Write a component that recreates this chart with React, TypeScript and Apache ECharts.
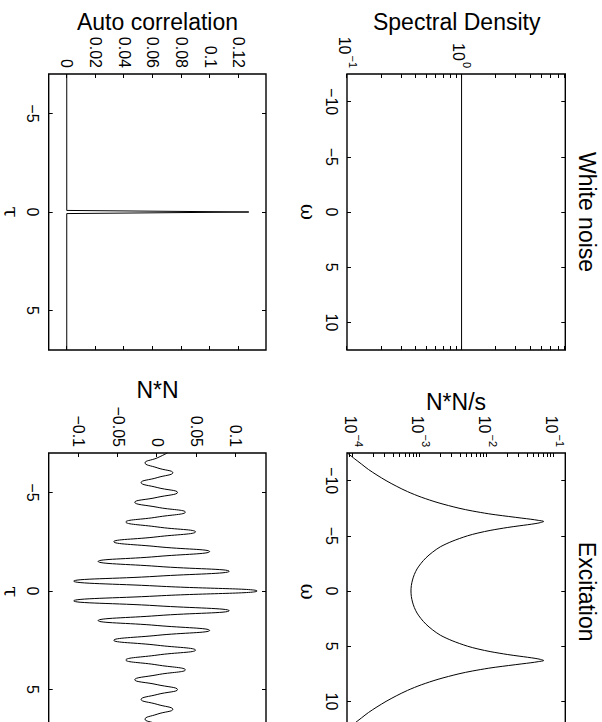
import React, { useEffect, useRef } from 'react';
import * as echarts from 'echarts';

// White noise: flat spectral density
const whiteOmega = [-12.5, 12.5];
const whiteSpectrum = [1, 1];

// Excitation spectral density (N*N/s)
const excitationOmega = [
  -12.5, -12, -11.5, -11, -10.5, -10, -9.5, -9, -8.5, -8, -7.5, -7.25, -7, -6.9, -6.75, -6.6, -6.5, -6.4, -6.3,
  -6.2, -6.1, -6, -5.9, -5.75, -5.5, -5.25, -5, -4.5, -4, -3.5, -3, -2.5, -2, -1.5, -1, -0.5, 0,
  0.5, 1, 1.5, 2, 2.5, 3, 3.5, 4, 4.5, 5, 5.25, 5.5, 5.75, 5.9, 6, 6.1, 6.2,
  6.3, 6.4, 6.5, 6.6, 6.75, 6.9, 7, 7.25, 7.5, 8, 8.5, 9, 9.5, 10, 10.5, 11, 11.5, 12, 12.5,
];
const excitationSpectrum = [
  8.2e-5, 1.04e-4, 1.33e-4, 1.7e-4, 2.27e-4, 3.1e-4, 4.4e-4, 6.5e-4, 1.04e-3, 1.85e-3, 3.8e-3, 6.0e-3, 1.04e-2, 1.35e-2, 2.1e-2, 3.3e-2, 4.5e-2, 5.8e-2, 7.0e-2,
  6.3e-2, 5.2e-2, 4.0e-2, 3.0e-2, 2.0e-2, 1.14e-2, 7.3e-3, 5.1e-3, 3.0e-3, 2.0e-3, 1.52e-3, 1.22e-3, 1.03e-3, 9.0e-4, 8.2e-4, 7.7e-4, 7.4e-4, 7.3e-4,
  7.4e-4, 7.7e-4, 8.2e-4, 9.0e-4, 1.03e-3, 1.22e-3, 1.52e-3, 2.0e-3, 3.0e-3, 5.1e-3, 7.3e-3, 1.14e-2, 2.0e-2, 3.0e-2, 4.0e-2, 5.2e-2, 6.3e-2,
  7.0e-2, 5.8e-2, 4.5e-2, 3.3e-2, 2.1e-2, 1.35e-2, 1.04e-2, 6.0e-3, 3.8e-3, 1.85e-3, 1.04e-3, 6.5e-4, 4.4e-4, 3.1e-4, 2.27e-4, 1.7e-4, 1.33e-4, 1.04e-4, 8.2e-5,
];

// White noise autocorrelation: a single spike at tau = 0
const autoTau = [-7, -0.08, 0, 0.08, 7];
const autoCorr = [0, 0, 0.127, 0, 0];

// Excitation autocorrelation (N*N)
const nnTau = [
  -7, -6.75, -6.5, -6.25, -6, -5.75, -5.5, -5.25, -5, -4.75, -4.5, -4.25, -4, -3.75, -3.5, -3.25,
  -3, -2.75, -2.5, -2.25, -2, -1.75, -1.5, -1.25, -1, -0.75, -0.5, -0.25, 0,
  0.25, 0.5, 0.75, 1, 1.25, 1.5, 1.75, 2, 2.25, 2.5, 2.75, 3, 3.25, 3.5, 3.75,
  4, 4.25, 4.5, 4.75, 5, 5.25, 5.5, 5.75, 6, 6.25, 6.5, 6.75, 7,
];
const nnCorr = [
  0.013, 0, -0.0155, 0, 0.02, 0, -0.0205, 0, 0.026, 0, -0.0286, 0, 0.036, 0, -0.04, 0,
  0.049, 0, -0.0554, 0, 0.067, 0, -0.0754, 0, 0.092, 0, -0.1065, 0, 0.1277,
  0, -0.1065, 0, 0.092, 0, -0.0754, 0, 0.067, 0, -0.0554, 0, 0.049, 0, -0.04, 0,
  0.036, 0, -0.0286, 0, 0.026, 0, -0.0205, 0, 0.02, 0, -0.0155, 0, 0.013,
];

// Tick labels
const omegaTicks = [-10, -5, 0, 5, 10];
const tauTicks = [-5, 0, 5];
const whiteDecades = [0.1, 1];
const excitationDecades = [1e-4, 1e-3, 1e-2, 1e-1];
const autoTicks = [0, 0.02, 0.04, 0.06, 0.08, 0.1, 0.12];
const nnTicks = [-0.1, -0.05, 0, 0.05, 0.1];

const FIG_W = 740;
const FIG_H = 602;
const FONT = '"Liberation Sans", Arial, Helvetica, sans-serif';
const SERIF = '"DejaVu Serif", "Liberation Serif", serif';
const MINUS = '\u2212';

const minorSteps = [1, 2, 3, 4, 5, 6, 7, 8, 9];
function logTickValues(lo: number, hi: number): number[] {
  const out: number[] = [];
  for (let e = Math.floor(Math.log10(lo)); e <= Math.ceil(Math.log10(hi)); e++) {
    for (const m of minorSteps) {
      const v = Number((m * Math.pow(10, e)).toPrecision(6));
      if (v >= lo && v <= hi) out.push(v);
    }
  }
  return out;
}

const linearLabel = (v: number) => String(v).replace('-', MINUS);
const powerLabel = (v: number) => {
  const e = Math.round(Math.log10(v));
  return `{b|10}{s|${e < 0 ? MINUS + -e : e}}`;
};

const tickStyle = { color: '#000', width: 1 };

function axis(
  gridIndex: number,
  position: string,
  type: 'value' | 'log',
  min: number,
  max: number,
  ticks: number[],
  labels: number[] | null,
  formatter: (v: number) => string,
) {
  const rich = {
    b: { fontSize: 16, fontFamily: FONT, color: '#000', lineHeight: 22, verticalAlign: 'bottom' },
    s: { fontSize: 11, fontFamily: FONT, color: '#000', lineHeight: 22, verticalAlign: 'top', padding: [0, 0, 0, 1] },
  };
  return {
    type,
    gridIndex,
    position,
    min,
    max,
    logBase: 10,
    axisLine: { show: false, onZero: false },
    splitLine: { show: false },
    minorTick: { show: false },
    axisTick: { show: true, inside: true, length: 4, customValues: ticks, lineStyle: tickStyle },
    axisLabel: labels
      ? {
          show: true,
          customValues: labels,
          formatter,
          color: '#000',
          fontSize: 16,
          fontFamily: FONT,
          margin: position === 'bottom' ? 8 : 6,
          rich,
        }
      : { show: false },
  };
}

const grids = [
  { left: 74, top: 36.7, width: 276, height: 218.3 },
  { left: 453, top: 36.7, width: 276, height: 218.3 },
  { left: 74, top: 336, width: 276, height: 217.3 },
  { left: 453, top: 336, width: 276, height: 217.3 },
];

const W_MIN = 0.1;
const W_MAX = 8.04;
const E_MIN = 8.1e-5;
const E_MAX = 0.147;
const A_MIN = -0.0126;
const A_MAX = 0.139;
const N_MIN = -0.1385;
const N_MAX = 0.139;

const xAxes = [
  axis(0, 'bottom', 'value', -12.5, 12.5, omegaTicks, omegaTicks, linearLabel),
  axis(0, 'top', 'value', -12.5, 12.5, omegaTicks, null, linearLabel),
  axis(1, 'bottom', 'value', -12.5, 12.5, omegaTicks, omegaTicks, linearLabel),
  axis(1, 'top', 'value', -12.5, 12.5, omegaTicks, null, linearLabel),
  axis(2, 'bottom', 'value', -7, 7, tauTicks, tauTicks, linearLabel),
  axis(2, 'top', 'value', -7, 7, tauTicks, null, linearLabel),
  axis(3, 'bottom', 'value', -7, 7, tauTicks, tauTicks, linearLabel),
  axis(3, 'top', 'value', -7, 7, tauTicks, null, linearLabel),
];

const wTicks = logTickValues(W_MIN, W_MAX);
const eTicks = logTickValues(E_MIN, E_MAX);

const yAxes = [
  axis(0, 'left', 'log', W_MIN, W_MAX, wTicks, whiteDecades, powerLabel),
  axis(0, 'right', 'log', W_MIN, W_MAX, wTicks, null, powerLabel),
  axis(1, 'left', 'log', E_MIN, E_MAX, eTicks, excitationDecades, powerLabel),
  axis(1, 'right', 'log', E_MIN, E_MAX, eTicks, null, powerLabel),
  axis(2, 'left', 'value', A_MIN, A_MAX, autoTicks, autoTicks, linearLabel),
  axis(2, 'right', 'value', A_MIN, A_MAX, autoTicks, null, linearLabel),
  axis(3, 'left', 'value', N_MIN, N_MAX, nnTicks, nnTicks, linearLabel),
  axis(3, 'right', 'value', N_MIN, N_MAX, nnTicks, null, linearLabel),
];

const pairs = (xs: number[], ys: number[]) => xs.map((x, i) => [x, ys[i]]);

function lineSeries(index: number, data: number[][], smooth: number | boolean) {
  return {
    type: 'line',
    xAxisIndex: index * 2,
    yAxisIndex: index * 2,
    data,
    showSymbol: false,
    symbol: 'none',
    smooth,
    clip: true,
    lineStyle: { color: '#000', width: 1 },
    silent: true,
  };
}

function label(text: string, x: number, y: number, size: number, rotated: boolean, family = FONT) {
  return {
    type: 'text',
    x,
    y,
    rotation: rotated ? Math.PI / 2 : 0,
    silent: true,
    style: {
      text,
      fill: '#000',
      fontSize: size,
      fontFamily: family,
      align: 'center',
      verticalAlign: 'middle',
      textAlign: 'center',
      textVerticalAlign: 'middle',
    },
  };
}

const option = {
  animation: false,
  backgroundColor: '#fff',
  grid: grids.map((g) => ({
    ...g,
    show: true,
    borderColor: '#000',
    borderWidth: 1.4,
    backgroundColor: 'transparent',
    containLabel: false,
    outerBoundsMode: 'none',
  })),
  xAxis: xAxes,
  yAxis: yAxes,
  series: [
    lineSeries(0, pairs(whiteOmega, whiteSpectrum), false),
    lineSeries(1, pairs(excitationOmega, excitationSpectrum), 0.3),
    lineSeries(2, pairs(autoTau, autoCorr), false),
    lineSeries(3, pairs(nnTau, nnCorr), 0.5),
  ],
  graphic: [
    label('White noise', 212, 14.7, 23, false),
    label('Excitation', 591.7, 14.7, 23, false),
    label('Spectral Density', 21.7, 145.3, 23, true),
    label('N*N/s', 401.7, 146, 23, true),
    label('Auto correlation', 21.7, 444.5, 23, true),
    label('N*N', 390, 444.5, 23, true),
    label('\u03c9', 212, 294, 20, false, SERIF),
    label('\u03c9', 591.7, 294, 20, false, SERIF),
    label('\u03c4', 212, 591, 20, false, SERIF),
    label('\u03c4', 591.7, 591, 20, false, SERIF),
  ],
};

export default function App() {
  const ref = useRef<HTMLDivElement>(null);
  useEffect(() => {
    if (!ref.current) return;
    const chart = echarts.init(ref.current, null, { renderer: 'svg' });
    chart.setOption(option as any);
    return () => chart.dispose();
  }, []);
  return (
    <div
      style={{
        position: 'fixed',
        left: 0,
        top: 0,
        width: 602,
        height: 722,
        overflow: 'hidden',
        background: '#fff',
      }}
    >
      <div
        ref={ref}
        style={{
          position: 'absolute',
          left: 0,
          top: 0,
          width: FIG_W,
          height: FIG_H,
          transformOrigin: '0 0',
          transform: 'translate(602px, 0) rotate(90deg)',
        }}
      />
    </div>
  );
}
